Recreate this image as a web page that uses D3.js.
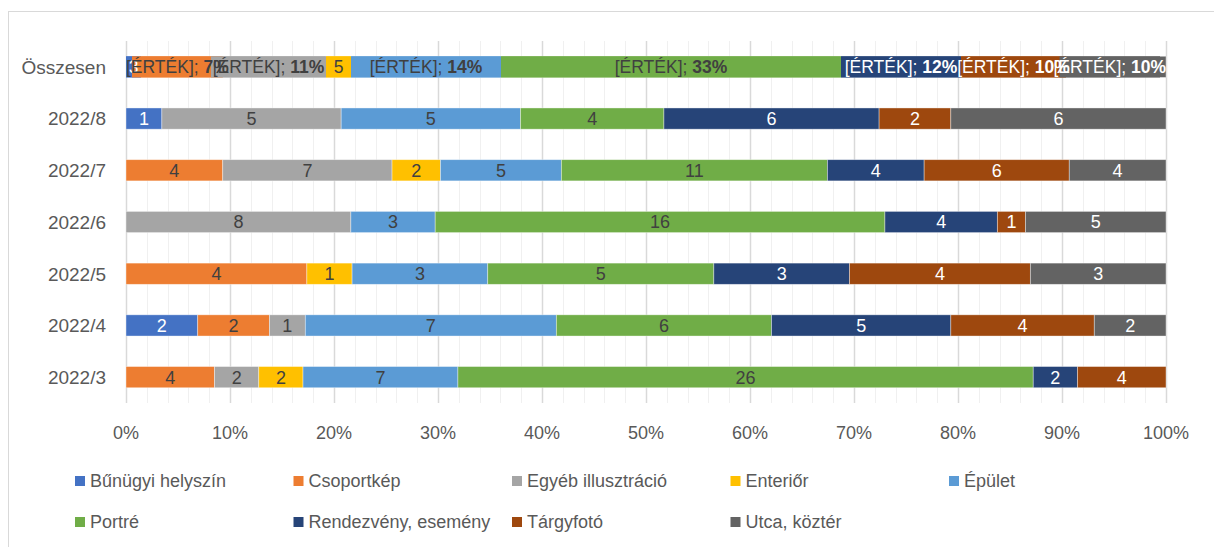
<!DOCTYPE html>
<html>
<head>
<meta charset="utf-8">
<script src="https://cdn.jsdelivr.net/npm/d3@7"></script>
<style>
  html, body { margin: 0; padding: 0; background: #ffffff; }
  svg { display: block; font-family: "Liberation Sans", Arial, sans-serif; }
</style>
</head>
<body>
<svg id="chart" width="1214" height="547"></svg>
<script>
// ---------- data ----------
const categories = ["Összesen", "2022/8", "2022/7", "2022/6", "2022/5", "2022/4", "2022/3"];
const seriesNames = ["Bűnügyi helyszín", "Csoportkép", "Egyéb illusztráció", "Enteriőr", "Épület",
                     "Portré", "Rendezvény, esemény", "Tárgyfotó", "Utca, köztér"];
const seriesColors = ["#4472C4", "#ED7D31", "#A5A5A5", "#FFC000", "#5B9BD5",
                      "#70AD47", "#264478", "#9E480E", "#636363"];
const labelColors = ["#ffffff", "#404040", "#404040", "#404040", "#404040",
                     "#404040", "#ffffff", "#ffffff", "#ffffff"];
// values per category, in series order
const valsOsszesen = [3, 14, 23, 5, 30, 68, 24, 21, 20];
const vals2022_8 = [1, 0, 5, 0, 5, 4, 6, 2, 6];
const vals2022_7 = [0, 4, 7, 2, 5, 11, 4, 6, 4];
const vals2022_6 = [0, 0, 8, 0, 3, 16, 4, 1, 5];
const vals2022_5 = [0, 4, 0, 1, 3, 5, 3, 4, 3];
const vals2022_4 = [2, 2, 1, 0, 7, 6, 5, 4, 2];
const vals2022_3 = [0, 4, 2, 2, 7, 26, 2, 4, 0];
// labels shown on the "Összesen" row
const totalLabelPrefix = ["", "[ÉRTÉK]; ", "[ÉRTÉK]; ", "", "[ÉRTÉK]; ", "[ÉRTÉK]; ", "[ÉRTÉK]; ", "[ÉRTÉK]; ", "[ÉRTÉK]; "];
const totalLabelValue = ["3", "7%", "11%", "5", "14%", "33%", "12%", "10%", "10%"];
const totalLabelBold = [false, true, true, false, true, true, true, true, true];
const xTicks = [0, 0.1, 0.2, 0.3, 0.4, 0.5, 0.6, 0.7, 0.8, 0.9, 1.0];

const rowValues = [valsOsszesen, vals2022_8, vals2022_7, vals2022_6, vals2022_5, vals2022_4, vals2022_3];

// ---------- layout ----------
const svg = d3.select("#chart");
const plot = { left: 126, right: 1166, top: 41, bottom: 403 };

// outer chart border
svg.append("rect")
  .attr("x", 8.5).attr("y", 11.5).attr("width", 1220).attr("height", 560)
  .attr("fill", "none").attr("stroke", "#d9d9d9").attr("stroke-width", 1);

const x = d3.scaleLinear().domain([0, 1]).range([plot.left, plot.right]);
const y = d3.scaleBand().domain(categories).range([plot.top, plot.bottom]).paddingInner(0.59).paddingOuter(0.295);

// minor gridlines (every 2%)
const minor = d3.range(0, 51).map(i => i / 50).filter((d, i) => i % 5 !== 0);
svg.append("g").selectAll("line").data(minor).join("line")
  .attr("x1", d => Math.round(x(d)) + 0.5).attr("x2", d => Math.round(x(d)) + 0.5)
  .attr("y1", plot.top).attr("y2", plot.bottom)
  .attr("stroke", "#f0f0f0").attr("stroke-width", 1);
// major gridlines
svg.append("g").selectAll("line").data(xTicks).join("line")
  .attr("x1", d => Math.round(x(d)) + 0.5).attr("x2", d => Math.round(x(d)) + 0.5)
  .attr("y1", plot.top).attr("y2", plot.bottom)
  .attr("stroke", "#d9d9d9").attr("stroke-width", 1.5);

// stacked data (percent)
const stackRows = categories.map((c, i) => {
  const vals = rowValues[i];
  const tot = d3.sum(vals);
  let acc = 0;
  return vals.map((v, s) => {
    const seg = { cat: c, row: i, s, v, x0: acc / tot, x1: (acc + v) / tot };
    acc += v;
    return seg;
  });
});
const segs = stackRows.flat();

// bars
svg.append("g").selectAll("rect").data(segs.filter(d => d.v > 0)).join("rect")
  .attr("x", d => x(d.x0)).attr("width", d => x(d.x1) - x(d.x0))
  .attr("y", d => y(d.cat)).attr("height", y.bandwidth())
  .attr("fill", d => seriesColors[d.s])
  .attr("stroke", "#ffffff").attr("stroke-opacity", 0.5).attr("stroke-width", 0.75);

// labels for month rows
svg.append("g").selectAll("text").data(segs.filter(d => d.v > 0 && d.row > 0)).join("text")
  .attr("x", d => (x(d.x0) + x(d.x1)) / 2)
  .attr("y", d => y(d.cat) + y.bandwidth() / 2)
  .attr("dy", "0.36em")
  .attr("text-anchor", "middle")
  .attr("font-size", 18)
  .attr("fill", d => labelColors[d.s])
  .text(d => d.v);

// labels for total row: filled boxes first, then texts
const boxG = svg.append("g");
const txtG = svg.append("g");
stackRows[0].forEach(d => {
  const cx = (x(d.x0) + x(d.x1)) / 2;
  const cy = y(d.cat) + y.bandwidth() / 2;
  const t = txtG.append("text")
    .attr("y", cy).attr("dy", "0.36em")
    .attr("font-size", 17.5).attr("fill", labelColors[d.s]);
  t.append("tspan").text(totalLabelPrefix[d.s]);
  t.append("tspan").attr("font-weight", totalLabelBold[d.s] ? "bold" : "normal").text(totalLabelValue[d.s]);
  const w = t.node().getComputedTextLength();
  let left = cx - w / 2;
  if (left < plot.left) left = plot.left;
  if (left + w > plot.right) left = plot.right - w;
  t.attr("x", left);
  const bw = Math.max(x(d.x1) - x(d.x0), w - 12);
  let bx = left + w / 2 - bw / 2;
  if (bx < plot.left) bx = plot.left;
  if (bx + bw > plot.right) bx = plot.right - bw;
  boxG.append("rect")
    .attr("x", bx).attr("width", bw)
    .attr("y", y(d.cat)).attr("height", y.bandwidth())
    .attr("fill", seriesColors[d.s]);
});

// category labels
svg.append("g").selectAll("text").data(categories).join("text")
  .attr("x", 106).attr("y", d => y(d) + y.bandwidth() / 2).attr("dy", "0.36em")
  .attr("text-anchor", "end").attr("font-size", 19).attr("fill", "#595959")
  .text(d => d);

// x axis tick labels
svg.append("g").selectAll("text").data(xTicks).join("text")
  .attr("x", d => x(d)).attr("y", 433).attr("dy", "0.36em")
  .attr("text-anchor", "middle").attr("font-size", 18).attr("fill", "#595959")
  .text(d => d3.format(".0%")(d));

// legend
const legendPos = seriesNames.map((n, i) => ({
  name: n, i,
  col: i < 5 ? i : i - 5,
  row: i < 5 ? 0 : 1
}));
const lg = svg.append("g").selectAll("g").data(legendPos).join("g")
  .attr("transform", d => `translate(${75 + d.col * 218.5},${d.row === 0 ? 481 : 522})`);
lg.append("rect").attr("x", 0).attr("y", -5).attr("width", 10).attr("height", 10)
  .attr("fill", d => seriesColors[d.i]);
lg.append("text").attr("x", 15).attr("y", 0).attr("dy", "0.36em")
  .attr("font-size", 18).attr("fill", "#595959").text(d => d.name);
</script>
</body>
</html>
